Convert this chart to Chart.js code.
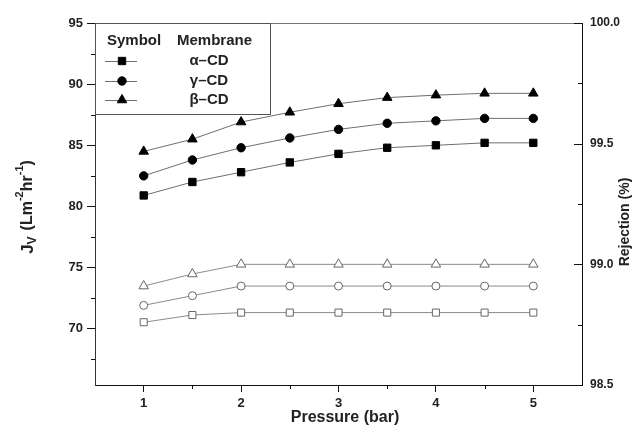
<!DOCTYPE html>
<html>
<head>
<meta charset="utf-8">
<script src="https://cdn.jsdelivr.net/npm/chart.js@4/dist/chart.umd.min.js"></script>
<style>
  html, body { margin: 0; padding: 0; background: #fff; }
  canvas { display: block; }
</style>
</head>
<body>
<canvas id="chart" width="636" height="427"></canvas>
<script>
// Pressure values (bar) for the x axis.
var pressure = [1, 1.5, 2, 2.5, 3, 3.5, 4, 4.5, 5];

// Flux Jv (left axis), filled symbols.
var fluxAlpha = [80.9, 82.0, 82.8, 83.6, 84.3, 84.8, 85.0, 85.2, 85.2];
var fluxGamma = [82.5, 83.8, 84.8, 85.6, 86.3, 86.8, 87.0, 87.2, 87.2];
var fluxBeta = [84.5, 85.5, 86.9, 87.7, 88.4, 88.9, 89.1, 89.25, 89.25];

// Rejection % (right axis), open symbols.
var rejAlpha = [98.76, 98.79, 98.80, 98.80, 98.80, 98.80, 98.80, 98.80, 98.80];
var rejGamma = [98.83, 98.87, 98.91, 98.91, 98.91, 98.91, 98.91, 98.91, 98.91];
var rejBeta = [98.91, 98.96, 99.0, 99.0, 99.0, 99.0, 99.0, 99.0, 99.0];

// Tick labels.
var xTicks = [1, 2, 3, 4, 5];
var leftTicks = [70, 75, 80, 85, 90, 95];
var rightTicks = [98.5, 99.0, 99.5, 100.0];

// Legend rows.
var membranes = ['\u03b1\u2013CD', '\u03b3\u2013CD', '\u03b2\u2013CD'];
var symbols = ['rect', 'circle', 'triangle'];

var FONT = "'Liberation Sans', Arial, sans-serif";

function points(values) {
  return pressure.map(function (p, i) {
    return { x: p, y: values[i] };
  });
}

function filledSet(values, style, radius) {
  return {
    data: points(values),
    yAxisID: 'y',
    borderColor: '#6e6e6e',
    borderWidth: 1,
    pointStyle: style,
    pointRadius: radius,
    pointBackgroundColor: '#000',
    pointBorderColor: '#000',
    pointBorderWidth: 1,
  };
}

function openSet(values, style, radius) {
  return {
    data: points(values),
    yAxisID: 'y2',
    borderColor: '#8a8a8a',
    borderWidth: 1,
    pointStyle: style,
    pointRadius: radius,
    pointBackgroundColor: '#fff',
    pointBorderColor: '#666',
    pointBorderWidth: 1,
  };
}

// Draws a string made of pieces with sub/superscripts, centred on (cx, cy).
function drawRich(ctx, parts, cx, cy, angle) {
  ctx.save();
  ctx.translate(cx, cy);
  ctx.rotate(angle);
  ctx.textBaseline = 'middle';
  ctx.textAlign = 'left';
  var total = 0;
  parts.forEach(function (p) {
    ctx.font = 'bold ' + p.size + 'px ' + FONT;
    p.w = ctx.measureText(p.t).width + (p.gap || 0);
    total += p.w;
  });
  var x = -total / 2;
  parts.forEach(function (p) {
    ctx.font = 'bold ' + p.size + 'px ' + FONT;
    ctx.fillText(p.t, x + (p.gap || 0), p.dy || 0);
    x += p.w;
  });
  ctx.restore();
}

var framePlugin = {
  id: 'frame',
  afterDraw: function (chart) {
    var ctx = chart.ctx;
    var area = chart.chartArea;
    var sx = chart.scales.x;
    var sy = chart.scales.y;
    var sy2 = chart.scales.y2;

    ctx.save();
    ctx.lineWidth = 1;

    // Top frame line.
    ctx.strokeStyle = '#777';
    ctx.beginPath();
    ctx.moveTo(area.left, area.top + 0.5);
    ctx.lineTo(area.right, area.top + 0.5);
    ctx.stroke();

    ctx.strokeStyle = '#111';
    ctx.beginPath();
    // Minor ticks on the left axis (outward).
    [67.5, 72.5, 77.5, 82.5, 87.5, 92.5].forEach(function (v) {
      var y = Math.round(sy.getPixelForValue(v)) + 0.5;
      ctx.moveTo(area.left - 4, y);
      ctx.lineTo(area.left, y);
    });
    // Minor ticks on the x axis (outward).
    [1.5, 2.5, 3.5, 4.5].forEach(function (v) {
      var x = Math.round(sx.getPixelForValue(v)) + 0.5;
      ctx.moveTo(x, area.bottom);
      ctx.lineTo(x, area.bottom + 4);
    });
    // Right axis ticks point inward.
    rightTicks.forEach(function (v) {
      var y = Math.round(sy2.getPixelForValue(v)) + 0.5;
      ctx.moveTo(area.right - 8, y);
      ctx.lineTo(area.right, y);
    });
    [98.75, 99.25, 99.75].forEach(function (v) {
      var y = Math.round(sy2.getPixelForValue(v)) + 0.5;
      ctx.moveTo(area.right - 4, y);
      ctx.lineTo(area.right, y);
    });
    ctx.stroke();

    // Axis titles.
    ctx.fillStyle = '#222';
    drawRich(ctx, [
      { t: 'J', size: 17 },
      { t: 'V', size: 12, dy: 5 },
      { t: '(Lm', size: 16, gap: 6 },
      { t: '-2', size: 11, dy: -8 },
      { t: 'hr', size: 16 },
      { t: '-1', size: 11, dy: -8 },
      { t: ')', size: 16 },
    ], 28, 207, -Math.PI / 2);
    drawRich(ctx, [{ t: 'Rejection (%)', size: 14 }], 625, 222, -Math.PI / 2);
    drawRich(ctx, [{ t: 'Pressure (bar)', size: 16 }], 345, 418, 0);

    // Legend box.
    ctx.strokeStyle = '#555';
    ctx.fillStyle = '#fff';
    ctx.fillRect(area.left + 0.5, area.top + 0.5, 175, 91);
    ctx.strokeRect(area.left + 0.5, area.top + 0.5, 175, 91);

    ctx.fillStyle = '#222';
    ctx.textBaseline = 'middle';
    ctx.textAlign = 'left';
    ctx.font = 'bold 15px ' + FONT;
    ctx.fillText('Symbol', area.left + 12, area.top + 18);
    ctx.fillText('Membrane', area.left + 82, area.top + 18);

    var rowY = [38, 58, 77];
    var radii = [5.2, 4.2, 5.5];
    membranes.forEach(function (name, i) {
      var y = area.top + rowY[i];
      ctx.strokeStyle = '#6e6e6e';
      ctx.beginPath();
      ctx.moveTo(area.left + 10, y + 0.5);
      ctx.lineTo(area.left + 42, y + 0.5);
      ctx.stroke();
      ctx.fillStyle = '#000';
      ctx.strokeStyle = '#000';
      Chart.helpers.drawPoint(ctx, { pointStyle: symbols[i], radius: radii[i], rotation: 0, borderWidth: 1 }, area.left + 27, y);
      ctx.fillStyle = '#222';
      ctx.textAlign = 'center';
      ctx.font = 'bold 15px ' + FONT;
      ctx.fillText(name, area.left + 114, y);
      ctx.textAlign = 'left';
    });

    ctx.restore();
  },
};

var tickFont = { family: FONT, size: 13, weight: 'bold' };

new Chart(document.getElementById('chart'), {
  type: 'line',
  data: {
    datasets: [
      filledSet(fluxAlpha, 'rect', 5.2),
      filledSet(fluxGamma, 'circle', 4.2),
      filledSet(fluxBeta, 'triangle', 5.5),
      openSet(rejAlpha, 'rect', 5),
      openSet(rejGamma, 'circle', 4),
      openSet(rejBeta, 'triangle', 5.5),
    ],
  },
  options: {
    responsive: false,
    animation: false,
    layout: { padding: { top: 23, left: 0, right: 0, bottom: 0 } },
    plugins: { legend: { display: false }, tooltip: { enabled: false } },
    elements: { line: { tension: 0 } },
    scales: {
      x: {
        type: 'linear',
        min: 0.5,
        max: 5.5,
        afterBuildTicks: function (axis) {
          axis.ticks = xTicks.map(function (v) { return { value: v }; });
        },
        afterFit: function (scale) { scale.height = 42; },
        grid: { drawOnChartArea: false, tickLength: 7, tickColor: '#111' },
        border: { color: '#111', width: 1 },
        ticks: { font: tickFont, color: '#222', padding: 4, maxRotation: 0 },
      },
      y: {
        position: 'left',
        min: 65.4,
        max: 95,
        afterBuildTicks: function (axis) {
          axis.ticks = leftTicks.map(function (v) { return { value: v }; });
        },
        afterFit: function (scale) { scale.width = 95; },
        grid: { drawOnChartArea: false, tickLength: 8, tickColor: '#111' },
        border: { color: '#333', width: 1 },
        ticks: { font: tickFont, color: '#222', padding: 4 },
      },
      y2: {
        position: 'right',
        min: 98.5,
        max: 100,
        afterBuildTicks: function (axis) {
          axis.ticks = rightTicks.map(function (v) { return { value: v }; });
        },
        afterFit: function (scale) { scale.width = 54; },
        grid: { drawOnChartArea: false, drawTicks: false },
        border: { color: '#111', width: 1 },
        ticks: {
          font: { family: FONT, size: 12, weight: 'bold' },
          color: '#222',
          padding: 8,
          callback: function (v) { return Number(v).toFixed(1); },
        },
      },
    },
  },
  plugins: [framePlugin],
});
</script>
</body>
</html>
